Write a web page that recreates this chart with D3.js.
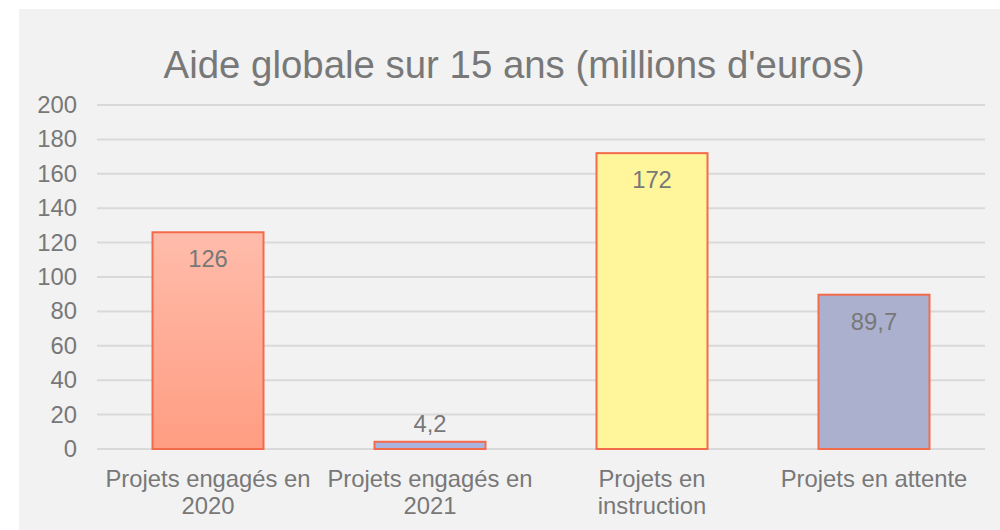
<!DOCTYPE html>
<html lang="fr">
<head>
<meta charset="UTF-8">
<title>Aide globale</title>
<script src="https://d3js.org/d3.v7.min.js"></script>
<style>
    body { margin: 0; background: #fff; overflow: hidden; }
    text { font-family: "Liberation Sans", Arial, sans-serif; fill: #787878; }
</style>
</head>
<body>
<div id="chart"></div>
<script>
const categories = [["Projets engagés en", "2020"], ["Projets engagés en", "2021"], ["Projets en", "instruction"], ["Projets en attente"]];
const values = [126, 4.2, 172, 89.7];
const labels = ["126", "4,2", "172", "89,7"];
const fills = ["url(#grad1)", "#abb4df", "#fff59b", "#abb0cf"];
const yTicks = [0, 20, 40, 60, 80, 100, 120, 140, 160, 180, 200];

const width = 1000, height = 530;
const svg = d3.select("#chart").append("svg").attr("width", width).attr("height", height);

const defs = svg.append("defs");
const grad = defs.append("linearGradient").attr("id", "grad1").attr("x1", 0).attr("y1", 0).attr("x2", 0).attr("y2", 1);
grad.append("stop").attr("offset", "0%").attr("stop-color", "#ffbcab");
grad.append("stop").attr("offset", "100%").attr("stop-color", "#ff9d82");

svg.append("rect").attr("x", 19).attr("y", 9).attr("width", 981).attr("height", 521).attr("fill", "#f2f2f2");

svg.append("text").attr("x", 514).attr("y", 78).attr("text-anchor", "middle")
    .style("font-size", "38.4px").text("Aide globale sur 15 ans (millions d'euros)");

const x = d3.scaleBand().domain(d3.range(values.length)).range([97, 985]).paddingInner(0.5).paddingOuter(0.25);
const y = d3.scaleLinear().domain([0, 200]).range([449, 105]);

svg.append("g").selectAll("line").data(yTicks).join("line")
    .attr("x1", 97).attr("x2", 985)
    .attr("y1", d => y(d)).attr("y2", d => y(d))
    .attr("stroke", "#d9d9d9").attr("stroke-width", 2);

svg.append("g").selectAll("text").data(yTicks).join("text")
    .attr("x", 77).attr("y", d => y(d) + 8).attr("text-anchor", "end")
    .style("font-size", "23.8px").text(d => d);

svg.append("g").selectAll("rect").data(values).join("rect")
    .attr("x", (d, i) => x(i)).attr("width", x.bandwidth())
    .attr("y", d => y(d)).attr("height", d => y(0) - y(d))
    .attr("fill", (d, i) => fills[i])
    .attr("stroke", "#f26b4b").attr("stroke-width", 2);

svg.append("g").selectAll("text").data(values).join("text")
    .attr("x", (d, i) => x(i) + x.bandwidth() / 2)
    .attr("y", d => d < 20 ? y(d) - 10 : y(d) + 35)
    .attr("text-anchor", "middle").style("font-size", "23.8px")
    .text((d, i) => labels[i]);

const xl = svg.append("g").selectAll("text").data(categories).join("text")
    .attr("x", (d, i) => x(i) + x.bandwidth() / 2)
    .attr("y", 487).attr("text-anchor", "middle").style("font-size", "23.8px");
xl.selectAll("tspan").data(d => d).join("tspan")
    .attr("x", function () { return d3.select(this.parentNode).attr("x"); })
    .attr("dy", (d, j) => j === 0 ? 0 : 27)
    .text(d => d);
</script>
</body>
</html>
